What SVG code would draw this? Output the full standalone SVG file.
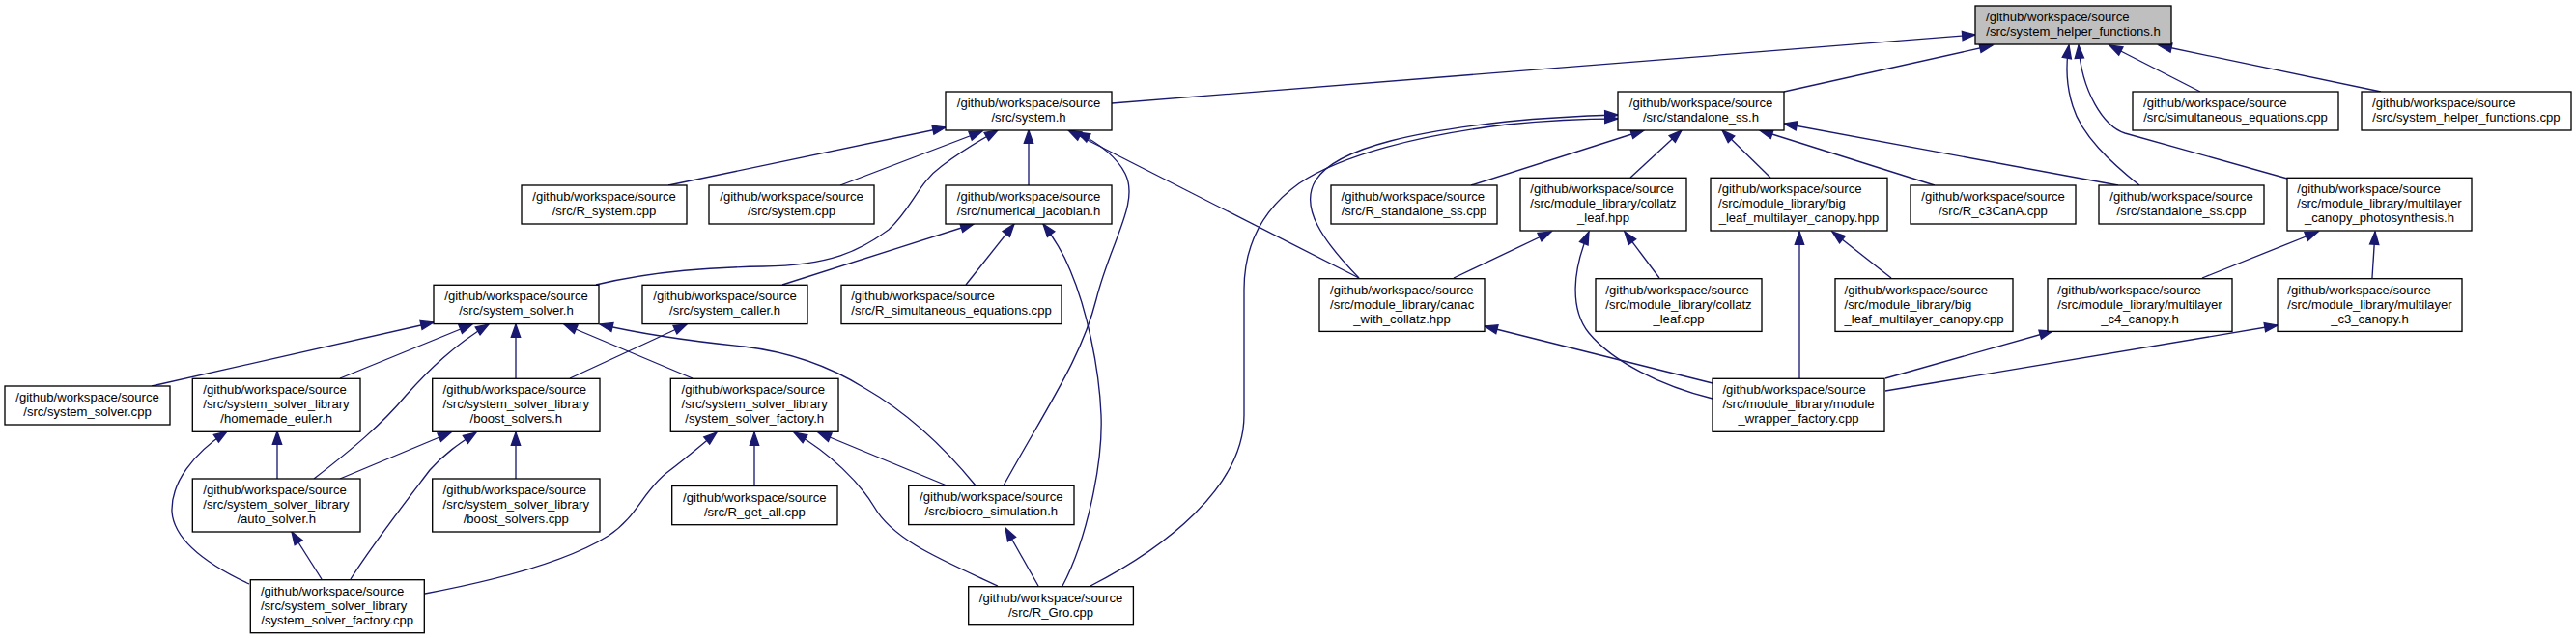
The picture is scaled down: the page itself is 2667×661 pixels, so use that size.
<svg xmlns="http://www.w3.org/2000/svg" width="2667" height="661" viewBox="0 0 2667 661">
<style>
.n rect{fill:#fff;stroke:#000;stroke-width:1.33}
.n rect.root{fill:#bfbfbf}
.n text{font-family:"Liberation Sans",Arial,Helvetica,sans-serif;font-size:13.1px;fill:#000}
.n text.m{text-anchor:middle}
.e path{fill:none;stroke:#191970;stroke-width:1.33;marker-end:url(#a)}
</style>
<defs>
<marker id="a" markerUnits="userSpaceOnUse" viewBox="0 0 13.3 9.33" markerWidth="13.3" markerHeight="9.33" refX="13.3" refY="4.67" orient="auto" overflow="visible">
<path d="M0,0 L13.3,4.67 L0,9.33 Z" fill="#191970" stroke="#191970" stroke-width="1.33"/>
</marker>
</defs>
<rect width="2667" height="661" fill="#fff"/>
<g class="e" id="edges">
<path d="M1151,107 L2045,36"/>
<path d="M1847,95 L2063,47"/>
<path d="M2278,95 L2184,47"/>
<path d="M2465,95 L2235,47"/>
<path d="M2215,192 C2185,168 2155,140 2146,110 C2138,85 2139,65 2142,47"/>
<path d="M2368,185 L2200,138 C2178,131 2155,95 2152,47"/>
<path d="M692,192 L979,132"/>
<path d="M870,192 L1017,136"/>
<path d="M617,295 C680,280 740,277 790,276 C860,275 890,260 920,238 C945,215 950,190 975,172 C995,157 1015,145 1033,135"/>
<path d="M1065,192 L1065,135"/>
<path d="M1039,503 C1085,420 1120,370 1135,310 C1150,250 1180,210 1165,180 C1155,160 1135,147 1115,137"/>
<path d="M1407,288 L1106,135"/>
<path d="M810,295 L1008,232"/>
<path d="M1000,295 L1050,232"/>
<path d="M1100,607 C1125,560 1142,480 1140,430 C1138,380 1125,320 1108,280 C1100,260 1090,245 1080,232"/>
<path d="M1523,192 L1702,135"/>
<path d="M1688,184 L1741,135"/>
<path d="M1833,184 L1783,135"/>
<path d="M2003,192 L1822,135"/>
<path d="M2193,192 L1847,128"/>
<path d="M1407,288 C1370,250 1345,215 1362,187 C1385,150 1480,135 1560,126 C1600,122 1640,120 1675,119"/>
<path d="M1129,607 C1205,568 1288,505 1288,430 L1288,300 C1288,250 1310,215 1345,190 C1390,160 1470,140 1560,129 C1600,125 1640,123 1675,123"/>
<path d="M1075,607 L1041,547"/>
<path d="M157,400 L449,334"/>
<path d="M352,392 L489,336"/>
<path d="M325,496 C365,465 395,440 420,410 C445,382 470,358 506,336"/>
<path d="M534,392 L534,336"/>
<path d="M717,392 L584,336"/>
<path d="M1010,503 C975,460 935,425 895,402 C860,380 820,365 770,359 C700,352 660,345 621,336"/>
<path d="M590,392 L711,336"/>
<path d="M287,496 L287,447"/>
<path d="M258,605 C215,585 180,560 178,530 C177,500 200,470 235,447"/>
<path d="M333,600 L302,551"/>
<path d="M352,496 L467,448"/>
<path d="M363,600 C385,565 420,520 445,487 C460,470 475,460 493,448"/>
<path d="M534,496 L534,448"/>
<path d="M440,615 C520,600 590,580 630,555 C660,535 665,510 690,490 C710,475 725,462 742,448"/>
<path d="M781,504 L781,448"/>
<path d="M980,503 L847,448"/>
<path d="M1033,607 C975,580 925,560 905,525 C890,500 860,470 822,448"/>
<path d="M1505,288 L1606,240"/>
<path d="M1773,413 C1720,400 1670,375 1645,345 C1625,320 1628,280 1645,240"/>
<path d="M1718,288 L1682,240"/>
<path d="M1773,397 L1537,338"/>
<path d="M1863,392 L1863,240"/>
<path d="M1958,288 L1897,240"/>
<path d="M2280,288 L2400,240"/>
<path d="M2456,288 L2459,240"/>
<path d="M1952,392 L2125,343"/>
<path d="M1952,405 L2358,337"/>
</g>
<g class="n" id="n1"><rect class="root" x="2045" y="6" width="203" height="40"/><text x="2056" y="22">/github/workspace/source</text><text class="m" x="2146.5" y="37">/src/system_helper_functions.h</text></g>
<g class="n" id="n2"><rect x="979" y="95" width="172" height="40"/><text class="m" x="1065" y="111">/github/workspace/source</text><text class="m" x="1065" y="126">/src/system.h</text></g>
<g class="n" id="n3"><rect x="1675" y="95" width="172" height="40"/><text class="m" x="1761" y="111">/github/workspace/source</text><text class="m" x="1761" y="126">/src/standalone_ss.h</text></g>
<g class="n" id="n4"><rect x="2208" y="95" width="213" height="40"/><text x="2219" y="111">/github/workspace/source</text><text class="m" x="2314.5" y="126">/src/simultaneous_equations.cpp</text></g>
<g class="n" id="n5"><rect x="2445" y="95" width="217" height="40"/><text x="2456" y="111">/github/workspace/source</text><text class="m" x="2553.5" y="126">/src/system_helper_functions.cpp</text></g>
<g class="n" id="n6"><rect x="540" y="192" width="171" height="40"/><text class="m" x="625.5" y="208">/github/workspace/source</text><text class="m" x="625.5" y="223">/src/R_system.cpp</text></g>
<g class="n" id="n7"><rect x="734" y="192" width="171" height="40"/><text class="m" x="819.5" y="208">/github/workspace/source</text><text class="m" x="819.5" y="223">/src/system.cpp</text></g>
<g class="n" id="n8"><rect x="979" y="192" width="172" height="40"/><text class="m" x="1065" y="208">/github/workspace/source</text><text class="m" x="1065" y="223">/src/numerical_jacobian.h</text></g>
<g class="n" id="n9"><rect x="1378" y="192" width="172" height="40"/><text x="1388.6" y="208">/github/workspace/source</text><text class="m" x="1464" y="223">/src/R_standalone_ss.cpp</text></g>
<g class="n" id="n10"><rect x="1574" y="184.3" width="172" height="54.7"/><text x="1584.3" y="200">/github/workspace/source</text><text x="1584.3" y="215">/src/module_library/collatz</text><text class="m" x="1660" y="230">_leaf.hpp</text></g>
<g class="n" id="n11"><rect x="1771" y="184.3" width="183" height="54.7"/><text x="1779" y="200">/github/workspace/source</text><text x="1779" y="215">/src/module_library/big</text><text class="m" x="1862.5" y="230">_leaf_multilayer_canopy.hpp</text></g>
<g class="n" id="n12"><rect x="1978" y="192" width="171" height="40"/><text class="m" x="2063.5" y="208">/github/workspace/source</text><text class="m" x="2063.5" y="223">/src/R_c3CanA.cpp</text></g>
<g class="n" id="n13"><rect x="2173" y="192" width="171" height="40"/><text class="m" x="2258.5" y="208">/github/workspace/source</text><text class="m" x="2258.5" y="223">/src/standalone_ss.cpp</text></g>
<g class="n" id="n14"><rect x="2368" y="184.3" width="191" height="54.7"/><text x="2378.3" y="200">/github/workspace/source</text><text x="2378.3" y="215">/src/module_library/multilayer</text><text class="m" x="2463.5" y="230">_canopy_photosynthesis.h</text></g>
<g class="n" id="n15"><rect x="449" y="295.3" width="171" height="40.3"/><text class="m" x="534.5" y="311">/github/workspace/source</text><text class="m" x="534.5" y="326">/src/system_solver.h</text></g>
<g class="n" id="n16"><rect x="665" y="295.3" width="171" height="40.3"/><text class="m" x="750.5" y="311">/github/workspace/source</text><text class="m" x="750.5" y="326">/src/system_caller.h</text></g>
<g class="n" id="n17"><rect x="871" y="295.3" width="228" height="40.3"/><text x="881.2" y="311">/github/workspace/source</text><text class="m" x="985" y="326">/src/R_simultaneous_equations.cpp</text></g>
<g class="n" id="n18"><rect x="1366" y="288.7" width="171" height="54.7"/><text x="1377" y="304.7">/github/workspace/source</text><text x="1377" y="319.7">/src/module_library/canac</text><text class="m" x="1451.5" y="334.7">_with_collatz.hpp</text></g>
<g class="n" id="n19"><rect x="1652" y="288.7" width="172" height="54.7"/><text x="1662.3" y="304.7">/github/workspace/source</text><text x="1662.3" y="319.7">/src/module_library/collatz</text><text class="m" x="1738" y="334.7">_leaf.cpp</text></g>
<g class="n" id="n20"><rect x="1900" y="288.7" width="184" height="54.7"/><text x="1909.5" y="304.7">/github/workspace/source</text><text x="1909.5" y="319.7">/src/module_library/big</text><text class="m" x="1992" y="334.7">_leaf_multilayer_canopy.cpp</text></g>
<g class="n" id="n21"><rect x="2120" y="288.7" width="191" height="54.7"/><text x="2130.3" y="304.7">/github/workspace/source</text><text x="2130.3" y="319.7">/src/module_library/multilayer</text><text class="m" x="2215.5" y="334.7">_c4_canopy.h</text></g>
<g class="n" id="n22"><rect x="2358" y="288.7" width="191" height="54.7"/><text x="2368.3" y="304.7">/github/workspace/source</text><text x="2368.3" y="319.7">/src/module_library/multilayer</text><text class="m" x="2453.5" y="334.7">_c3_canopy.h</text></g>
<g class="n" id="n23"><rect x="5" y="400" width="171" height="40"/><text class="m" x="90.5" y="416">/github/workspace/source</text><text class="m" x="90.5" y="431">/src/system_solver.cpp</text></g>
<g class="n" id="n24"><rect x="199.3" y="392.3" width="173.7" height="55"/><text x="210.3" y="408.3">/github/workspace/source</text><text x="210.3" y="423.3">/src/system_solver_library</text><text class="m" x="286.2" y="438.3">/homemade_euler.h</text></g>
<g class="n" id="n25"><rect x="447.7" y="392.3" width="173.3" height="55"/><text x="458.6" y="408.3">/github/workspace/source</text><text x="458.6" y="423.3">/src/system_solver_library</text><text class="m" x="534.3" y="438.3">/boost_solvers.h</text></g>
<g class="n" id="n26"><rect x="694.3" y="392.3" width="173.7" height="55"/><text x="705.5" y="408.3">/github/workspace/source</text><text x="705.5" y="423.3">/src/system_solver_library</text><text class="m" x="781.2" y="438.3">/system_solver_factory.h</text></g>
<g class="n" id="n27"><rect x="1773" y="392.3" width="178" height="55"/><text x="1783.4" y="408.3">/github/workspace/source</text><text x="1783.4" y="423.3">/src/module_library/module</text><text class="m" x="1862" y="438.3">_wrapper_factory.cpp</text></g>
<g class="n" id="n28"><rect x="199.3" y="496" width="173.7" height="55"/><text x="210.3" y="512">/github/workspace/source</text><text x="210.3" y="527">/src/system_solver_library</text><text class="m" x="286.2" y="542">/auto_solver.h</text></g>
<g class="n" id="n29"><rect x="447.7" y="496" width="173.3" height="55"/><text x="458.6" y="512">/github/workspace/source</text><text x="458.6" y="527">/src/system_solver_library</text><text class="m" x="534.3" y="542">/boost_solvers.cpp</text></g>
<g class="n" id="n30"><rect x="695.7" y="503.5" width="171.3" height="40.2"/><text class="m" x="781.3" y="519.5">/github/workspace/source</text><text class="m" x="781.3" y="534.5">/src/R_get_all.cpp</text></g>
<g class="n" id="n31"><rect x="940.7" y="503.3" width="171.3" height="40.3"/><text class="m" x="1026.3" y="519.3">/github/workspace/source</text><text class="m" x="1026.3" y="534.3">/src/biocro_simulation.h</text></g>
<g class="n" id="n32"><rect x="259.3" y="600.7" width="180" height="55"/><text x="269.9" y="616.7">/github/workspace/source</text><text x="269.9" y="631.7">/src/system_solver_library</text><text class="m" x="349.2" y="646.7">/system_solver_factory.cpp</text></g>
<g class="n" id="n33"><rect x="1002.7" y="607.7" width="170.7" height="40"/><text class="m" x="1088" y="623.7">/github/workspace/source</text><text class="m" x="1088" y="638.7">/src/R_Gro.cpp</text></g>
</svg>
